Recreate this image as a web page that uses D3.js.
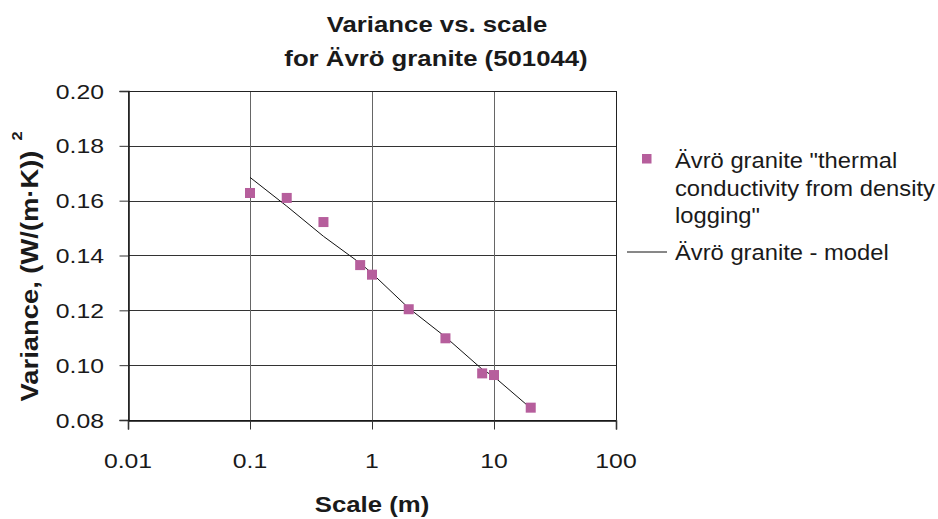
<!DOCTYPE html>
<html>
<head>
<meta charset="utf-8">
<script src="https://cdn.jsdelivr.net/npm/d3@7"></script>
<style>
    body { margin: 0; background: #fff; }
    svg { display: block; font-family: "Liberation Sans", Arial, Helvetica, sans-serif; }
</style>
</head>
<body>
<div id="chart"></div>
<script>
// Measured data (scale in m, variance in (W/(m·K))^2)
const scales = [0.1, 0.2, 0.4, 0.8, 1, 2, 4, 8, 10, 20];
const measuredVariance = [0.1628, 0.1610, 0.1522, 0.1365, 0.1330, 0.1204, 0.1098, 0.0970, 0.0964, 0.0845];
const modelVariance = [0.1685, 0.1580, 0.1470, 0.1372, 0.1335, 0.1208, 0.1103, 0.0985, 0.0958, 0.0843];

const xTicks = [0.01, 0.1, 1, 10, 100];
const xTickLabels = ['0.01', '0.1', '1', '10', '100'];
const yTicks = [0.08, 0.10, 0.12, 0.14, 0.16, 0.18, 0.20];

const titleLines = ['Variance vs. scale', 'for Ävrö granite (501044)'];
const legendMeasured = ['Ävrö granite "thermal', 'conductivity from density', 'logging"'];
const legendModel = 'Ävrö granite - model';

const width = 938;
const height = 519;
const plot = { left: 128, right: 616, top: 91, bottom: 420 };
const pointColor = '#b65e9c';
const textColor = '#1a1a1a';

const svg = d3.select('#chart')
    .append('svg')
    .attr('width', width)
    .attr('height', height);

const x = d3.scaleLog().domain([0.01, 100]).range([plot.left, plot.right]);
const y = d3.scaleLinear().domain([0.08, 0.20]).range([plot.bottom, plot.top]);

// text in the reference is a bit wider than Arial, so stretch it horizontally
function label(str, px, py, opts) {
    const o = Object.assign({ size: 21, weight: 'normal', anchor: 'start', sx: 1.15, rotate: 0 }, opts);
    return svg.append('text')
        .attr('transform', `translate(${px},${py}) rotate(${o.rotate}) scale(${o.sx},1)`)
        .attr('font-size', o.size)
        .attr('font-weight', o.weight)
        .attr('text-anchor', o.anchor)
        .attr('fill', textColor)
        .text(str);
}

// gridlines
svg.append('g')
    .selectAll('line')
    .data(yTicks)
    .join('line')
    .attr('x1', plot.left)
    .attr('x2', plot.right)
    .attr('y1', d => Math.round(y(d)) + 0.5)
    .attr('y2', d => Math.round(y(d)) + 0.5)
    .attr('stroke', '#333')
    .attr('stroke-width', 1);

svg.append('g')
    .selectAll('line')
    .data(xTicks)
    .join('line')
    .attr('x1', d => Math.round(x(d)) + 0.5)
    .attr('x2', d => Math.round(x(d)) + 0.5)
    .attr('y1', plot.top)
    .attr('y2', plot.bottom)
    .attr('stroke', '#666')
    .attr('stroke-width', 1);

// axes
const yAxis = svg.append('g')
    .attr('transform', `translate(${plot.left + 0.5},0)`)
    .call(d3.axisLeft(y).tickValues(yTicks).tickSize(9).tickFormat(''));
const xAxis = svg.append('g')
    .attr('transform', `translate(0,${plot.bottom + 0.5})`)
    .call(d3.axisBottom(x).tickValues(xTicks).tickSize(9).tickFormat(''));
[yAxis, xAxis].forEach(a => {
    a.select('.domain').attr('stroke', '#111').attr('stroke-width', 1.5);
    a.selectAll('.tick line').attr('stroke', '#333');
});

// plot frame top / right
svg.append('line')
    .attr('x1', plot.left).attr('x2', plot.right)
    .attr('y1', plot.top + 0.5).attr('y2', plot.top + 0.5)
    .attr('stroke', '#222');
svg.append('line')
    .attr('x1', plot.right + 0.5).attr('x2', plot.right + 0.5)
    .attr('y1', plot.top).attr('y2', plot.bottom)
    .attr('stroke', '#222');

// tick labels
yTicks.forEach(t => {
    label(t.toFixed(2), 104, y(t) + 7.5, { anchor: 'end', sx: 1.18 });
});
xTicks.forEach((t, i) => {
    label(xTickLabels[i], x(t), 468, { anchor: 'middle', sx: 1.18 });
});

// model line
const line = d3.line()
    .x(d => x(d[0]))
    .y(d => y(d[1]));
svg.append('path')
    .datum(scales.map((s, i) => [s, modelVariance[i]]))
    .attr('d', line)
    .attr('fill', 'none')
    .attr('stroke', '#111')
    .attr('stroke-width', 1);

// measured points
const markerSize = 10;
svg.append('g')
    .selectAll('rect')
    .data(scales.map((s, i) => [s, measuredVariance[i]]))
    .join('rect')
    .attr('x', d => x(d[0]) - markerSize / 2)
    .attr('y', d => y(d[1]) - markerSize / 2)
    .attr('width', markerSize)
    .attr('height', markerSize)
    .attr('fill', pointColor);

// titles
label(titleLines[0], 437, 32, { anchor: 'middle', size: 23, weight: 'bold', sx: 1.12 });
label(titleLines[1], 436, 66, { anchor: 'middle', size: 23, weight: 'bold', sx: 1.12 });
label('Scale (m)', 372, 512, { anchor: 'middle', size: 23, weight: 'bold', sx: 1.12 });
label('Variance, (W/(m·K))', 37.5, 276, { anchor: 'middle', size: 23, weight: 'bold', sx: 1.19, rotate: -90 });
label('2', 22, 136, { anchor: 'middle', size: 15, weight: 'bold', sx: 1.1, rotate: -90 });

// legend
svg.append('rect')
    .attr('x', 642).attr('y', 154)
    .attr('width', 9.5).attr('height', 9.5)
    .attr('fill', pointColor);
const legendBaselines = [168, 195.5, 223];
legendMeasured.forEach((s, i) => {
    label(s, 675, legendBaselines[i], { size: 22, sx: 1.08 });
});
svg.append('line')
    .attr('x1', 627).attr('x2', 667)
    .attr('y1', 252).attr('y2', 252)
    .attr('stroke', '#111')
    .attr('stroke-width', 1);
label(legendModel, 675, 260, { size: 22, sx: 1.08 });
</script>
</body>
</html>
